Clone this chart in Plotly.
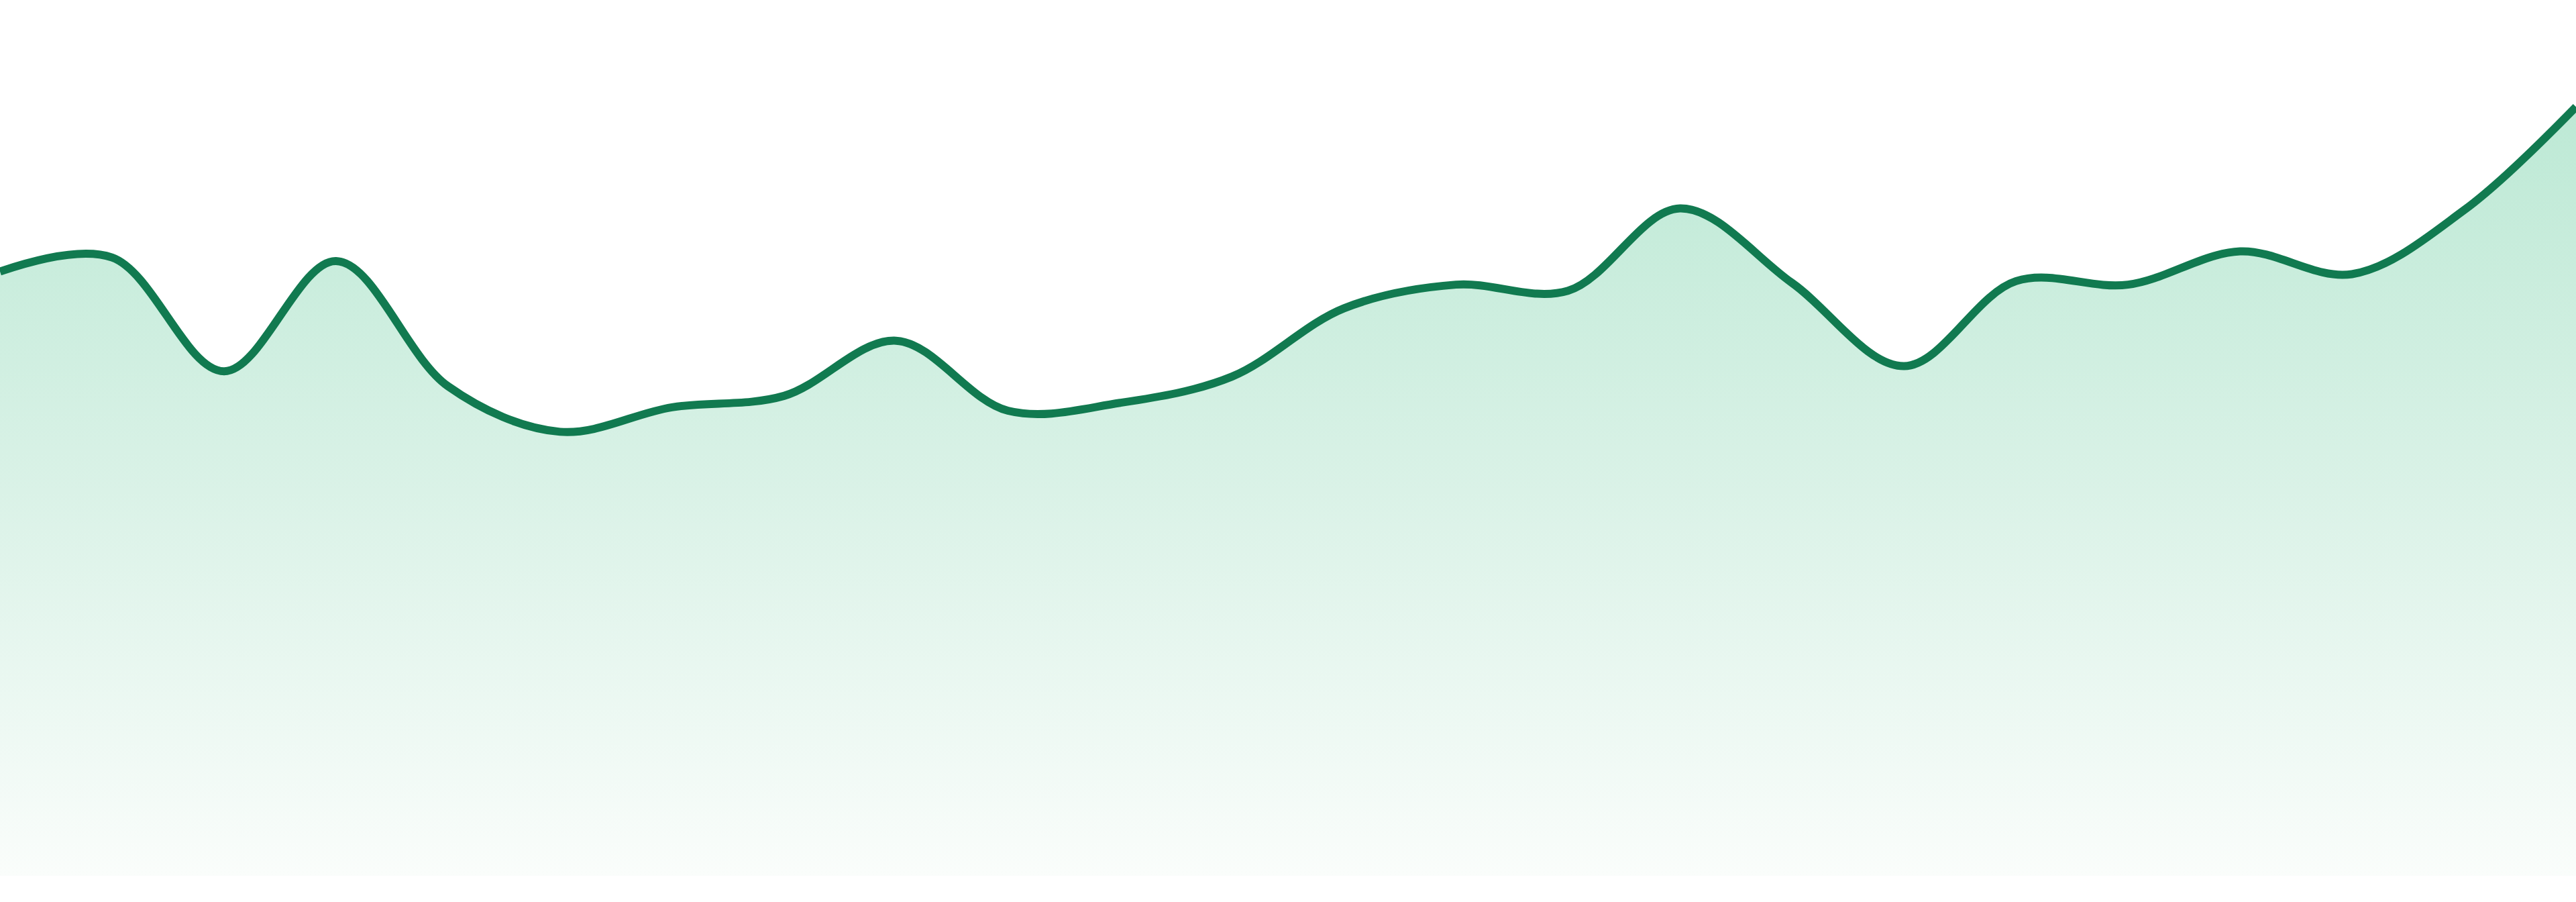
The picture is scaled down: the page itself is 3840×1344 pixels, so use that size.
import plotly.graph_objects as go

# Data
periods = list(range(24))
values = [69.0, 70.6, 57.6, 70.2, 55.9, 50.7, 53.5, 54.8, 61.1, 53.1, 54.0, 57.0,
          64.8, 67.5, 66.8, 76.2, 67.7, 58.2, 67.9, 67.5, 71.3, 68.7, 76.0, 87.8]

LINE = "#117a50"

fig = go.Figure()
fig.add_trace(go.Scatter(
    x=periods, y=values,
    mode="lines",
    line=dict(color=LINE, width=12, shape="spline", smoothing=1.0),
    fill="tozeroy",
    fillgradient=dict(
        type="vertical",
        start=0, stop=max(values),
        colorscale=[[0.0, "rgba(250,253,251,1)"],
                    [0.5, "rgba(218,242,231,1)"],
                    [1.0, "rgba(189,233,213,1)"]],
    ),
    hoverinfo="skip",
    showlegend=False,
))

fig.update_layout(
    width=3840, height=1344,
    margin=dict(l=0, r=0, t=0, b=39),
    paper_bgcolor="white", plot_bgcolor="white",
    xaxis=dict(range=[0, 23], visible=False, fixedrange=True),
    yaxis=dict(range=[0, 100], visible=False, fixedrange=True),
)

fig.write_html(
    "out.html",
    config={"displayModeBar": False},
    post_script="document.body.style.margin='0';document.body.style.padding='0';",
)
